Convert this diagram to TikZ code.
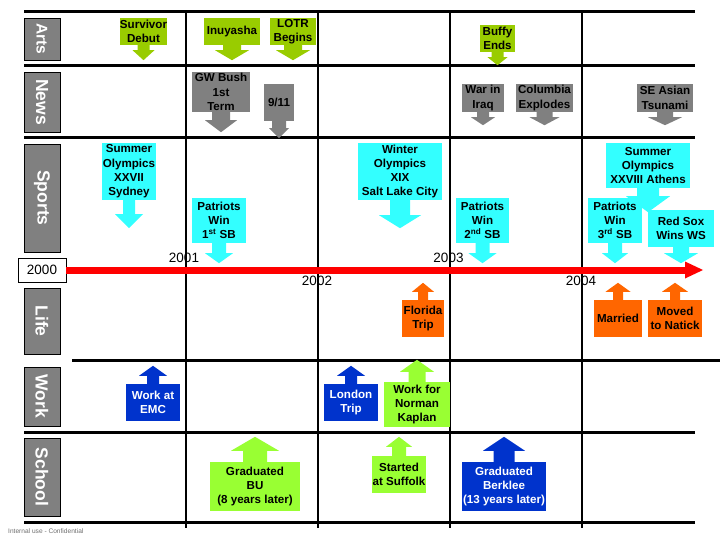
\documentclass[tikz,border=0pt]{standalone}
\usepackage{fontspec}
\setmainfont{Liberation Sans}
\usetikzlibrary{calc}
\definecolor{artsgreen}{RGB}{153,204,0}
\definecolor{newsgray}{RGB}{128,128,128}
\definecolor{sportcyan}{RGB}{51,255,255}
\definecolor{lifeorange}{RGB}{255,102,0}
\definecolor{workblue}{RGB}{0,51,204}
\definecolor{lightgreen}{RGB}{153,255,51}
\definecolor{labelgray}{RGB}{128,128,128}
\definecolor{notegray}{RGB}{110,110,110}
\newcommand\dnarr[6]{%
  \fill[#1] ($(#2.south)+(-#3,-0.5)$) -- ($(#2.south)+(-#3,#5)$) -- ($(#2.south)+(-#4,#5)$)
   -- ($(#2.south)+(0,#5+#6)$) -- ($(#2.south)+(#4,#5)$) -- ($(#2.south)+(#3,#5)$)
   -- ($(#2.south)+(#3,-0.5)$) -- cycle;}
\newcommand\uparr[6]{%
  \fill[#1] ($(#2.north)+(-#3,0.5)$) -- ($(#2.north)+(-#3,-#5)$) -- ($(#2.north)+(-#4,-#5)$)
   -- ($(#2.north)+(0,-#5-#6)$) -- ($(#2.north)+(#4,-#5)$) -- ($(#2.north)+(#3,-#5)$)
   -- ($(#2.north)+(#3,0.5)$) -- cycle;}
\tikzset{
  callout/.style={rectangle, inner sep=0pt, align=center,
    font=\fontsize{11.6}{14.3}\selectfont\bfseries},
  catlabel/.style={rectangle, draw=black, line width=0.8pt, fill=labelgray,
    minimum height=36pt, inner sep=0pt, text=white, rotate=-90,
    font=\fontsize{17.5}{20}\selectfont\bfseries},
  thickrule/.style={line width=3pt},
  thinrule/.style={line width=1.2pt},
  yearlbl/.style={inner sep=0pt, font=\fontsize{13.5}{15}\selectfont},
}
\begin{document}
\begin{tikzpicture}[x=1pt,y=-1pt]
\useasboundingbox (0,0) rectangle (720,540);
% grid
\draw[thickrule] (24,12) -- (695,12);
\draw[thickrule] (24,66) -- (695,66);
\draw[thickrule] (24,138) -- (695,138);
\draw[thickrule] (72,360) -- (720,360);
\draw[thickrule] (24,432) -- (695,432);
\draw[thickrule] (24,522) -- (695,522);
\foreach \xx in {186,318,450,582} \draw[thinrule] (\xx,12) -- (\xx,528);
% category labels
\node[catlabel, minimum width=42pt, font=\fontsize{15.5}{18}\selectfont\bfseries] (arts) at (42,39) {Arts};
\node[catlabel, minimum width=60pt] (news) at (42,102) {News};
\node[catlabel, minimum width=108pt] (sports) at (42,198) {Sports};
\node[catlabel, minimum width=66pt] (life) at (42,321) {Life};
\node[catlabel, minimum width=59pt] (work) at (42,396.5) {Work};
\node[catlabel, minimum width=78pt] (school) at (42,477) {School};
% Arts
\node[callout, fill=artsgreen, minimum width=47pt, minimum height=27pt] (survivor) at (143.5,31.5) {Survivor\\Debut};
\dnarr{artsgreen}{survivor}{6}{11}{5}{10}
\node[callout, fill=artsgreen, minimum width=56pt, minimum height=27pt] (inuyasha) at (232,31.5) {Inuyasha};
\dnarr{artsgreen}{inuyasha}{9}{17}{5}{10}
\node[callout, fill=artsgreen, minimum width=46pt, minimum height=27pt] (lotr) at (293,31.5) {LOTR\\Begins};
\dnarr{artsgreen}{lotr}{9}{17}{5}{10}
\node[callout, fill=artsgreen, minimum width=35pt, minimum height=27pt] (buffy) at (497.5,38.5) {Buffy\\Ends};
\dnarr{artsgreen}{buffy}{6}{10}{5}{8}
% News
\node[callout, fill=newsgray, minimum width=58pt, minimum height=40pt] (bush) at (221,92) {GW Bush\\1st\\Term};
\dnarr{newsgray}{bush}{9}{16}{8}{12}
\node[callout, fill=newsgray, minimum width=30pt, minimum height=37pt] (nineeleven) at (279,102.5) {9/11};
\dnarr{newsgray}{nineeleven}{7}{10}{7}{10}
\node[callout, fill=newsgray, minimum width=42pt, minimum height=28pt] (iraq) at (483,98) {War in\\Iraq};
\dnarr{newsgray}{iraq}{6}{12}{5}{8}
\node[callout, fill=newsgray, minimum width=57pt, minimum height=28pt] (columbia) at (544.5,98) {Columbia\\Explodes};
\dnarr{newsgray}{columbia}{8}{15}{5}{8}
\node[callout, fill=newsgray, minimum width=56pt, minimum height=28pt] (tsunami) at (665,98) {SE Asian\\Tsunami};
\dnarr{newsgray}{tsunami}{8}{17}{5}{8}
% Sports
\node[callout, fill=sportcyan, minimum width=54pt, minimum height=57pt] (sydney) at (129,171.5) {Summer\\Olympics\\XXVII\\Sydney};
\dnarr{sportcyan}{sydney}{6}{14}{14}{14}
\node[callout, fill=sportcyan, minimum width=54pt, minimum height=45pt] (sbone) at (219,220.5) {Patriots\\Win\\1\textsuperscript{st} SB};
\dnarr{sportcyan}{sbone}{7}{14}{10}{10}
\node[callout, fill=sportcyan, minimum width=84pt, minimum height=57pt] (winter) at (400,171.5) {Winter\\Olympics\\XIX\\Salt Lake City};
\dnarr{sportcyan}{winter}{10}{21}{15}{13}
\node[callout, fill=sportcyan, minimum width=53pt, minimum height=45pt] (sbtwo) at (482.5,220.5) {Patriots\\Win\\2\textsuperscript{nd} SB};
\dnarr{sportcyan}{sbtwo}{7}{14}{10}{10}
\node[callout, fill=sportcyan, minimum width=84pt, minimum height=45pt] (athens) at (648,165.5) {Summer\\Olympics\\XXVIII Athens};
\dnarr{sportcyan}{athens}{11}{22}{8}{16}
\node[callout, fill=sportcyan, minimum width=54pt, minimum height=45pt] (sbthree) at (615,220.5) {Patriots\\Win\\3\textsuperscript{rd} SB};
\dnarr{sportcyan}{sbthree}{7}{13}{10}{10}
\node[callout, fill=sportcyan, minimum width=66pt, minimum height=37pt] (redsox) at (681,228.5) {Red Sox\\Wins WS};
\dnarr{sportcyan}{redsox}{8}{17}{6}{10}
% Life
\node[callout, fill=lifeorange, minimum width=42pt, minimum height=37pt] (florida) at (423,318.5) {Florida\\Trip};
\uparr{lifeorange}{florida}{5}{11}{8}{9}
\node[callout, fill=lifeorange, minimum width=48pt, minimum height=37pt] (married) at (618,318.5) {Married};
\uparr{lifeorange}{married}{5}{12.5}{8}{9}
\node[callout, fill=lifeorange, minimum width=54pt, minimum height=37pt] (natick) at (675,318.5) {Moved\\to Natick};
\uparr{lifeorange}{natick}{5}{13}{8}{9}
% Work
\node[callout, fill=workblue, text=white, minimum width=54pt, minimum height=37pt] (emc) at (153,402.5) {Work at\\EMC};
\uparr{workblue}{emc}{6}{14}{8}{10}
\node[callout, fill=workblue, text=white, minimum width=54pt, minimum height=37pt] (london) at (351,402.5) {London\\Trip};
\uparr{workblue}{london}{6}{14}{8}{10}
\node[callout, fill=lightgreen, minimum width=66pt, minimum height=45pt] (kaplan) at (417,404.5) {Work for\\Norman\\Kaplan};
\uparr{lightgreen}{kaplan}{8.5}{17}{10}{12}
% School
\node[callout, fill=lightgreen, minimum width=90pt, minimum height=49pt] (bu) at (255,486.5) {Graduated\\BU\\(8 years later)};
\uparr{lightgreen}{bu}{12}{24}{11}{14}
\node[callout, fill=lightgreen, minimum width=54pt, minimum height=37pt] (suffolk) at (399,474.5) {Started\\at Suffolk};
\uparr{lightgreen}{suffolk}{7}{13}{9}{10}
\node[callout, fill=workblue, text=white, minimum width=84pt, minimum height=49pt] (berklee) at (504,486.5) {Graduated\\Berklee\\(13 years later)};
\uparr{workblue}{berklee}{10.5}{21}{11}{14}
% timeline
\node[draw=black, line width=0.8pt, fill=white, minimum width=48pt, minimum height=24pt, inner sep=0pt,
  font=\fontsize{13.5}{15}\selectfont] (ytwothousand) at (42,270) {2000};
\coordinate (tlend) at (686,270);
\draw[red, line width=7pt] (ytwothousand.east) -- (tlend);
\fill[red] (685,261.5) -- (703,270) -- (685,278.5) -- cycle;
\node[yearlbl] (y2001) at (184,258) {2001};
\node[yearlbl] (y2002) at (317,281) {2002};
\node[yearlbl] (y2003) at (448.5,258) {2003};
\node[yearlbl] (y2004) at (581,281) {2004};
% note
\node[anchor=west, inner sep=0pt, text=notegray, font=\fontsize{6.6}{7}\selectfont] (note) at (8,531) {Internal use - Confidential};
\end{tikzpicture}
\end{document}
